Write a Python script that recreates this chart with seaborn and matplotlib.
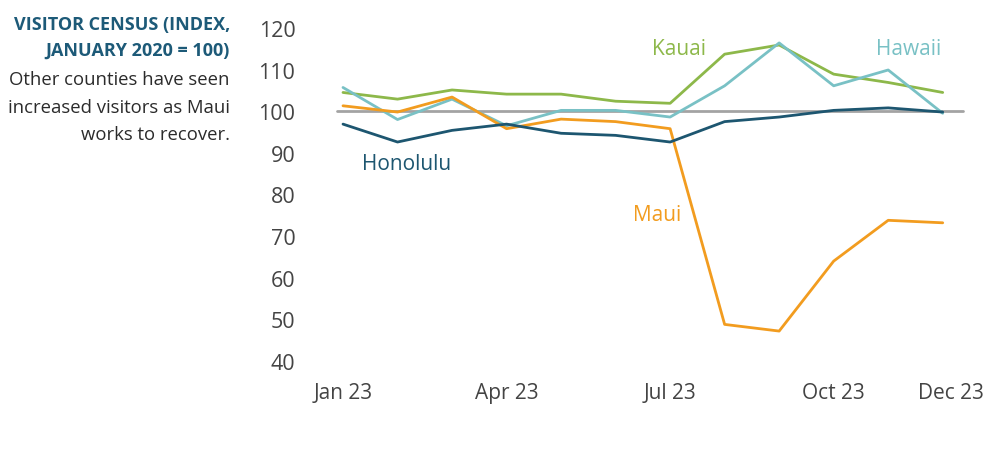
import pandas as pd
import matplotlib.pyplot as plt
import matplotlib.transforms as mtransforms
import seaborn as sns

# Monthly visitor census index (Jan 2020 = 100), Jan-Dec 2023
months = ['Jan', 'Feb', 'Mar', 'Apr', 'May', 'Jun', 'Jul', 'Aug', 'Sep', 'Oct', 'Nov', 'Dec']
kauai = [104.5, 102.9, 105.1, 104.1, 104.1, 102.4, 101.9, 113.7, 115.9, 108.9, 106.9, 104.5]
hawaii = [105.7, 98.0, 102.9, 96.5, 100.2, 100.2, 98.6, 106.1, 116.4, 106.1, 109.9, 99.5]
maui = [101.3, 99.8, 103.4, 95.8, 98.1, 97.5, 95.8, 48.8, 47.2, 64.0, 73.8, 73.2]
honolulu = [96.9, 92.6, 95.4, 96.9, 94.7, 94.2, 92.6, 97.5, 98.6, 100.2, 100.8, 99.8]

tick_months = [0, 3, 6, 9, 11]
tick_labels = ['Jan 23', 'Apr 23', 'Jul 23', 'Oct 23', 'Dec 23']

colors = {'Kauai': '#8db84a', 'Hawaii': '#79c1c5', 'Maui': '#f29c1f', 'Honolulu': '#1d5670'}

rows = []
for name, vals in [('Kauai', kauai), ('Hawaii', hawaii), ('Maui', maui), ('Honolulu', honolulu)]:
    for i, v in enumerate(vals):
        rows.append({'month': i, 'county': name, 'index': v})
df = pd.DataFrame(rows)

sns.set_style('white')
plt.rcParams['font.family'] = ['Open Sans', 'DejaVu Sans']

fig = plt.figure(figsize=(10.03, 4.52), dpi=100)
ax = fig.add_axes([0.336, 0.199, 0.624, 0.737])

ax.axhline(100, color='#a3a3a3', lw=2, zorder=1)
sns.lineplot(data=df, x='month', y='index', hue='county', palette=colors,
             linewidth=2, legend=False, ax=ax, zorder=3)

ax.set_xlim(-0.11, 11.37)
ax.set_ylim(40, 120)
ax.set_yticks(range(40, 121, 10))
ax.set_xticks(tick_months)
ax.set_xticklabels(tick_labels)
ax.tick_params(axis='y', length=0, pad=30, labelsize=15.5, labelcolor='#444444')
ax.tick_params(axis='x', length=0, pad=15, labelsize=15, labelcolor='#444444')
ax.set_xlabel('')
ax.set_ylabel('')
for s in ax.spines.values():
    s.set_visible(False)
for line in ax.lines:
    line.set_clip_on(False)

# last month label sits a little to the right in the original
last = ax.get_xticklabels()[-1]
last.set_transform(last.get_transform() + mtransforms.ScaledTranslation(8 / 100, 0, fig.dpi_scale_trans))

# direct labels
ax.text(5.67, 115.1, 'Kauai', color=colors['Kauai'], fontsize=15, va='center')
ax.text(9.78, 115.1, 'Hawaii', color=colors['Hawaii'], fontsize=15, va='center')
ax.text(0.35, 87.5, 'Honolulu', color=colors['Honolulu'], fontsize=15, va='center')
ax.text(5.32, 75.2, 'Maui', color=colors['Maui'], fontsize=15, va='center')

# side annotation
fig.text(230 / 1003, 1 - 25 / 452, 'VISITOR CENSUS (INDEX,', ha='right', va='center',
         fontsize=13, fontweight='bold', color='#1d5a78')
fig.text(230 / 1003, 1 - 51 / 452, 'JANUARY 2020 = 100)', ha='right', va='center',
         fontsize=13, fontweight='bold', color='#1d5a78')
fig.text(230 / 1003, 1 - 80 / 452, 'Other counties have seen', ha='right', va='center',
         fontsize=13.3, color='#2b2b2b')
fig.text(230 / 1003, 1 - 108 / 452, 'increased visitors as Maui', ha='right', va='center',
         fontsize=13.3, color='#2b2b2b')
fig.text(230 / 1003, 1 - 135 / 452, 'works to recover.', ha='right', va='center',
         fontsize=13.3, color='#2b2b2b')

plt.savefig('out.png', dpi=100)
